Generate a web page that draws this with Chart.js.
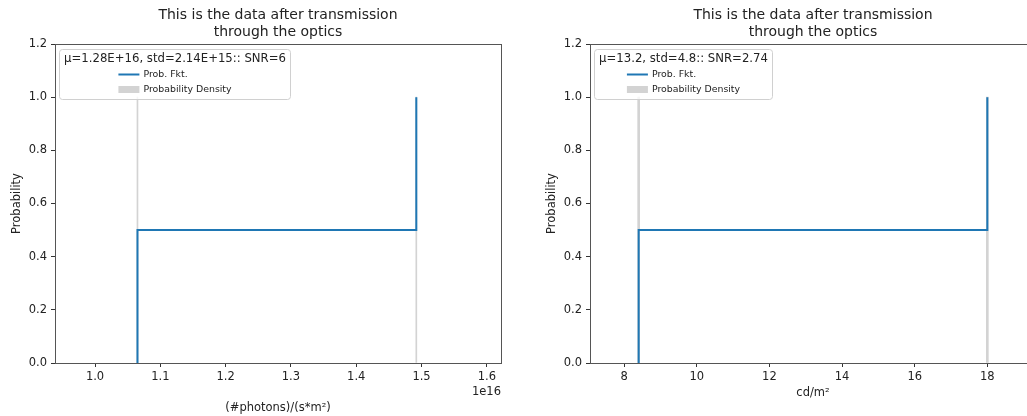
<!DOCTYPE html>
<html>
<head>
<meta charset="utf-8">
<title>Transmission through the optics</title>
<script src="https://cdn.jsdelivr.net/npm/chart.js@4.4.1/dist/chart.umd.min.js"></script>
<style>
  html, body { margin: 0; padding: 0; background: #fff; overflow: hidden; }
  body { position: relative; width: 1027px; height: 416px; }
  .panel { position: absolute; top: 0; height: 416px; }
  #photonPanel { left: 0; width: 520px; }
  #luminancePanel { left: 520px; width: 540px; }
</style>
</head>
<body>
<div class="panel" id="photonPanel"><canvas id="photonChart" width="520" height="416"></canvas></div>
<div class="panel" id="luminancePanel"><canvas id="luminanceChart" width="540" height="416"></canvas></div>

<script>
// ============================================================
// DATA
// ============================================================

const titleLines = ["This is the data after transmission", "through the optics"];

const stepLevels = [0.5, 1.0];        // cumulative probability after each edge
const densityHeights = [1.0, 1.0];    // histogram bar heights
const probTicks = [0, 0.2, 0.4, 0.6, 0.8, 1.0, 1.2];

const photonEdges = [1.065e16, 1.492e16];
const photonTicks = [1.0e16, 1.1e16, 1.2e16, 1.3e16, 1.4e16, 1.5e16, 1.6e16];
const photonRange = [0.9387e16, 1.6217e16];
const photonStats = "μ=1.28E+16, std=2.14E+15:: SNR=6";

const luminanceEdges = [8.4, 18.0];
const luminanceTicks = [8, 10, 12, 14, 16, 18];
const luminanceRange = [7.06, 19.34];
const luminanceStats = "μ=13.2, std=4.8:: SNR=2.74";

// ============================================================
// STYLE
// ============================================================

const FONT = "DejaVu Sans";
const BLUE = "#1f77b4";
const GREY = "#d3d3d3";
const TEXT = "#222";
const CANVAS_H = 416;
const AREA_TOP = 44;
const AREA_BOTTOM = 363;

// ============================================================
// HELPERS
// ============================================================

function stepPoints(edges, levels) {
  const pts = [{ x: edges[0], y: 0 }];
  edges.forEach((x, i) => pts.push({ x, y: levels[i] }));
  return pts;
}

function roundRect(ctx, x, y, w, h, r) {
  ctx.beginPath();
  ctx.moveTo(x + r, y);
  ctx.lineTo(x + w - r, y);
  ctx.quadraticCurveTo(x + w, y, x + w, y + r);
  ctx.lineTo(x + w, y + h - r);
  ctx.quadraticCurveTo(x + w, y + h, x + w - r, y + h);
  ctx.lineTo(x + r, y + h);
  ctx.quadraticCurveTo(x, y + h, x, y + h - r);
  ctx.lineTo(x, y + r);
  ctx.quadraticCurveTo(x, y, x + r, y);
  ctx.closePath();
}

// Title, axes frame, legend box and offset text
const decorPlugin = {
  id: "decor",
  afterDraw(chart, args, opts) {
    const { ctx, chartArea: a } = chart;
    ctx.save();

    // frame on all four sides
    ctx.strokeStyle = "#555";
    ctx.lineWidth = 1;
    ctx.strokeRect(Math.round(a.left) + 0.5, Math.round(a.top) + 0.5,
      Math.round(a.right - a.left), Math.round(a.bottom - a.top));

    // two-line title centred over the plot
    ctx.fillStyle = TEXT;
    ctx.textAlign = "center";
    ctx.textBaseline = "middle";
    ctx.font = `14px "${FONT}"`;
    const cx = (a.left + a.right) / 2;
    titleLines.forEach((line, i) => ctx.fillText(line, cx, 15 + i * 17));

    // offset text for scaled axis
    if (opts.offsetText) {
      ctx.font = `11.5px "${FONT}"`;
      ctx.textAlign = "right";
      ctx.fillText(opts.offsetText, a.right, 392);
    }

    // legend
    ctx.font = `11.7px "${FONT}"`;
    const titleW = ctx.measureText(opts.stats).width;
    const boxX = a.left + 4.5;
    const boxY = a.top + 5.5;
    const boxW = Math.round(titleW + 9);
    const boxH = 50;
    roundRect(ctx, boxX, boxY, boxW, boxH, 3);
    ctx.fillStyle = "rgba(255,255,255,0.8)";
    ctx.fill();
    ctx.strokeStyle = "#d0d0d0";
    ctx.stroke();

    ctx.fillStyle = TEXT;
    ctx.textAlign = "center";
    ctx.fillText(opts.stats, boxX + boxW / 2, boxY + 9.5);

    ctx.font = `9.4px "${FONT}"`;
    const sets = chart.data.datasets;
    const labelW = Math.max(...sets.map(d => ctx.measureText(d.label).width));
    const handleW = 21;
    const sx = boxX + boxW / 2 - (handleW + 4 + labelW) / 2;
    ctx.textAlign = "left";
    sets.forEach((d, i) => {
      const y = boxY + 25 + i * 15;
      if (d.type === "bar") {
        ctx.fillStyle = d.backgroundColor;
        ctx.fillRect(sx, y - 3.5, handleW, 7);
      } else {
        ctx.strokeStyle = d.borderColor;
        ctx.lineWidth = 2;
        ctx.beginPath();
        ctx.moveTo(sx, y);
        ctx.lineTo(sx + handleW, y);
        ctx.stroke();
      }
      ctx.fillStyle = TEXT;
      ctx.fillText(d.label, sx + handleW + 4, y);
    });

    ctx.restore();
  }
};

// ============================================================
// CHART FACTORY
// ============================================================

function createStepChart(canvas, cfg) {
  const tickFont = { family: FONT, size: 11.5 };
  const tickGrid = {
    offset: false,
    drawOnChartArea: false,
    drawTicks: true,
    tickLength: 4,
    tickColor: "#333"
  };

  return new Chart(canvas, {
    type: "line",
    data: {
      datasets: [
        {
          type: "line",
          label: "Prob. Fkt.",
          data: stepPoints(cfg.edges, stepLevels),
          stepped: "before",
          borderColor: BLUE,
          borderWidth: 2,
          pointRadius: 0,
          fill: false,
          order: 0
        },
        {
          type: "bar",
          label: "Probability Density",
          data: cfg.edges.map((x, i) => ({ x, y: densityHeights[i] })),
          backgroundColor: GREY,
          barThickness: cfg.barWidth,
          order: 1
        }
      ]
    },
    options: {
      responsive: false,
      animation: false,
      events: [],
      layout: {
        padding: { top: AREA_TOP, left: 0, right: cfg.padRight, bottom: cfg.padBottom }
      },
      plugins: {
        legend: { display: false },
        tooltip: { enabled: false },
        title: { display: false },
        decor: { stats: cfg.stats, offsetText: cfg.offsetText }
      },
      scales: {
        x: {
          type: "linear",
          min: cfg.range[0],
          max: cfg.range[1],
          offset: false,
          afterBuildTicks: s => { s.ticks = cfg.ticks.map(v => ({ value: v })); },
          afterFit: s => { s.height = CANVAS_H - AREA_BOTTOM - cfg.padBottom; },
          border: { display: false },
          grid: tickGrid,
          ticks: {
            font: tickFont,
            color: TEXT,
            padding: 3,
            maxRotation: 0,
            autoSkip: false,
            callback: v => cfg.tickFormat(v)
          },
          title: {
            display: true,
            text: cfg.xLabel,
            font: tickFont,
            color: TEXT,
            padding: { top: 0, bottom: cfg.xTitlePad }
          }
        },
        y: {
          min: 0,
          max: 1.2,
          afterBuildTicks: s => { s.ticks = probTicks.map(v => ({ value: v })); },
          afterFit: s => { s.width = cfg.areaLeft; },
          border: { display: false },
          grid: tickGrid,
          ticks: {
            font: tickFont,
            color: TEXT,
            padding: 4,
            callback: v => v.toFixed(1)
          },
          title: {
            display: true,
            text: "Probability",
            font: tickFont,
            color: TEXT,
            padding: { top: cfg.yTitlePad, bottom: 0 }
          }
        }
      }
    },
    plugins: [decorPlugin]
  });
}

// ============================================================
// INIT
// ============================================================

createStepChart(document.getElementById("photonChart"), {
  edges: photonEdges,
  ticks: photonTicks,
  range: photonRange,
  stats: photonStats,
  offsetText: "1e16",
  tickFormat: v => (v / 1e16).toFixed(1),
  xLabel: "(#photons)/(s*m²)",
  barWidth: 1,
  areaLeft: 55,
  padRight: 19,
  padBottom: 1,
  xTitlePad: 0,
  yTitlePad: 10
});

createStepChart(document.getElementById("luminanceChart"), {
  edges: luminanceEdges,
  ticks: luminanceTicks,
  range: luminanceRange,
  stats: luminanceStats,
  offsetText: null,
  tickFormat: v => String(v),
  xLabel: "cd/m²",
  barWidth: 2,
  areaLeft: 70,
  padRight: 24,
  padBottom: 16,
  xTitlePad: 0,
  yTitlePad: 25
});
</script>
</body>
</html>
